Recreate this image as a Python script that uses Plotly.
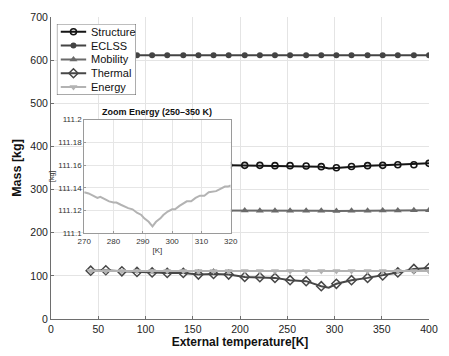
import plotly.graph_objects as go

# ---------------- data ----------------
T_K = [42, 58, 75, 91, 107, 123, 140, 156, 172, 188, 205, 221, 237, 253,
       270, 286, 302, 318, 335, 351, 367, 384, 400]
STRUCTURE = [360, 360, 359.5, 359, 358.5, 358.5, 358, 357.5, 357, 356.5, 356.2, 356.2,
             355.4, 355.4, 354.6, 353.1, 350.5, 353.5, 355.4, 356.2, 357.7, 357.7, 360.8]
ECLSS = [611.5] * 23
MOBILITY = [252, 252, 252, 252, 252, 252, 252, 252, 252, 252, 251.7, 251.2, 251.2,
            251, 251, 250.7, 250.2, 250.7, 251, 251.4, 251.4, 251.9, 252.2]
THERMAL = [112, 113, 110.5, 109, 108, 106.8, 106.8, 103, 104.5, 103, 97.6, 96.8,
           95.3, 90, 87.7, 76, 81.6, 90, 95.3, 101, 108, 116, 118]
ENERGY = [111.18, 111.17, 111.17, 111.16, 111.16, 111.16, 111.15, 111.15, 111.15,
          111.14, 111.14, 111.14, 111.13, 111.13, 111.135, 111.12, 111.12, 111.14,
          111.15, 111.16, 111.17, 111.17, 111.18]
# line-only points between markers (minimum near 294 K)
T_DIP = [294]
STRUCTURE_DIP = [349]
THERMAL_DIP = [72.5]

ZOOM_T = [270, 271.5, 273, 274.5, 275.5, 277, 278.5, 280, 281, 282.5, 284, 285, 286.5,
          288, 289.5, 290.5, 292, 293.3, 294.5, 296, 297, 298.5, 300, 301, 302.5, 304,
          305, 306.5, 308, 309.5, 311, 312.5, 314, 315, 316.5, 318, 319, 320]
ZOOM_ENERGY = [111.136, 111.135, 111.133, 111.131, 111.132, 111.130, 111.128, 111.127,
               111.127, 111.125, 111.123, 111.122, 111.121, 111.118, 111.116, 111.113,
               111.110, 111.106, 111.110, 111.113, 111.116, 111.119, 111.121, 111.121,
               111.124, 111.126, 111.128, 111.128, 111.131, 111.133, 111.133, 111.136,
               111.137, 111.137, 111.139, 111.141, 111.141, 111.142]

SERIES_NAMES = ["Structure", "ECLSS", "Mobility", "Thermal", "Energy"]
X_TICKS = [0, 50, 100, 150, 200, 250, 300, 350, 400]
Y_TICKS = [0, 100, 200, 300, 400, 500, 600, 700]
ZOOM_X_TICKS = [270, 280, 290, 300, 310, 320]
ZOOM_Y_TICKS = [111.1, 111.12, 111.14, 111.16, 111.18, 111.2]
ZOOM_Y_LABELS = ["111.1", "111.12", "111.14", "111.16", "111.18", "111.2"]

# ---------------- styles ----------------
FONT = "Liberation Sans, Arial, Helvetica, sans-serif"
STYLES = {
    "Structure": dict(color="#151515", symbol="circle-open", size=6, mlw=1.6),
    "ECLSS": dict(color="#444444", symbol="circle", size=6, mlw=0),
    "Mobility": dict(color="#6a6a6a", symbol="triangle-up", size=7, mlw=0),
    "Thermal": dict(color="#474747", symbol="diamond-open", size=7, mlw=1.5),
    "Energy": dict(color="#b3b3b3", symbol="triangle-down", size=7, mlw=0),
}
LINE_W = 2


def merge(xs, ys, xd, yd):
    pts = sorted(list(zip(xs, ys)) + list(zip(xd, yd)))
    return [p[0] for p in pts], [p[1] for p in pts]


line_data = {
    "Structure": merge(T_K, STRUCTURE, T_DIP, STRUCTURE_DIP),
    "ECLSS": (T_K, ECLSS),
    "Mobility": (T_K, MOBILITY),
    "Thermal": merge(T_K, THERMAL, T_DIP, THERMAL_DIP),
    "Energy": (T_K, ENERGY),
}
marker_data = {
    "Structure": STRUCTURE, "ECLSS": ECLSS, "Mobility": MOBILITY,
    "Thermal": THERMAL, "Energy": ENERGY,
}

fig = go.Figure()

for name in SERIES_NAMES:
    st = STYLES[name]
    lx, ly = line_data[name]
    fig.add_trace(go.Scatter(x=lx, y=ly, mode="lines", showlegend=False,
                             line=dict(color=st["color"], width=LINE_W),
                             xaxis="x", yaxis="y", hoverinfo="skip"))
    fig.add_trace(go.Scatter(x=T_K, y=marker_data[name], mode="markers", name=name,
                             showlegend=False,
                             marker=dict(symbol=st["symbol"], size=st["size"], color=st["color"],
                                         line=dict(color=st["color"], width=st["mlw"])),
                             xaxis="x", yaxis="y"))

# inset
fig.add_trace(go.Scatter(x=ZOOM_T, y=ZOOM_ENERGY, mode="lines", showlegend=False,
                         line=dict(color=STYLES["Energy"]["color"], width=2),
                         xaxis="x2", yaxis="y2"))

# manual legend (compact, MATLAB-like)
LEG_W, LEG_H = 81, 72
ROW0, ROW_STEP = 8, 14
for i, name in enumerate(SERIES_NAMES):
    st = STYLES[name]
    r = ROW0 + i * ROW_STEP
    fig.add_trace(go.Scatter(x=[4, 30], y=[r, r], mode="lines", showlegend=False,
                             line=dict(color=st["color"], width=LINE_W),
                             xaxis="x3", yaxis="y3", hoverinfo="skip"))
    fig.add_trace(go.Scatter(x=[17], y=[r], mode="markers", showlegend=False,
                             marker=dict(symbol=st["symbol"], size=st["size"], color=st["color"],
                                         line=dict(color=st["color"], width=st["mlw"])),
                             xaxis="x3", yaxis="y3", hoverinfo="skip"))
    fig.add_annotation(x=33, y=r, xref="x3", yref="y3", text=name, showarrow=False,
                       xanchor="left", yanchor="middle",
                       font=dict(family=FONT, size=11, color="#111111"))

W, H = 449, 356
ML, MR, MT, MB = 51, 11, 14, 36
PW, PH = W - ML - MR, H - MT - MB


def dx(px):
    return (px - ML) / PW


def dy(py):
    return (H - MB - py) / PH


axis_common = dict(showgrid=True, gridcolor="#e4e4e4", gridwidth=1, zeroline=False,
                   showline=True, linecolor="#6e6e6e", linewidth=1,
                   ticks="inside", ticklen=3, tickcolor="#6e6e6e",
                   tickfont=dict(family=FONT, size=10.5, color="#222222"))

fig.update_layout(
    width=W, height=H,
    margin=dict(l=ML, r=MR, t=MT, b=MB, pad=0),
    paper_bgcolor="white", plot_bgcolor="white",
    showlegend=False,
    xaxis=dict(domain=[0, 1], range=[0, 400], tickvals=X_TICKS, anchor="y",
               title=dict(text="<b>External temperature[K]</b>", standoff=2,
                          font=dict(family=FONT, size=12, color="#111111")),
               **axis_common),
    yaxis=dict(domain=[0, 1], range=[0, 700], tickvals=Y_TICKS, anchor="x",
               title=dict(text="<b>Mass [kg]</b>", standoff=5,
                          font=dict(family=FONT, size=12.5, color="#111111")),
               **axis_common),
    xaxis2=dict(domain=[dx(85), dx(235)], range=[270, 320], tickvals=ZOOM_X_TICKS,
                anchor="y2", showgrid=True, gridcolor="#e6e6e6", zeroline=False,
                showline=True, mirror=True, linecolor="#9a9a9a", linewidth=1,
                ticks="inside", ticklen=2, tickcolor="#9a9a9a",
                tickfont=dict(family=FONT, size=8, color="#333333"),
                title=dict(text="[K]", standoff=2, font=dict(family=FONT, size=8, color="#333333"))),
    yaxis2=dict(domain=[dy(233), dy(118)], range=[111.1, 111.2], tickvals=ZOOM_Y_TICKS,
                ticktext=ZOOM_Y_LABELS, anchor="x2", showgrid=True, gridcolor="#e6e6e6",
                zeroline=False, showline=True, mirror=True, linecolor="#9a9a9a", linewidth=1,
                ticks="inside", ticklen=2, tickcolor="#9a9a9a",
                tickfont=dict(family=FONT, size=8, color="#333333"),
                title=dict(text="[kg]", standoff=2, font=dict(family=FONT, size=7, color="#333333"))),
    xaxis3=dict(domain=[dx(57), dx(57 + LEG_W)], range=[0, LEG_W], anchor="y3",
                visible=False, fixedrange=True),
    yaxis3=dict(domain=[dy(21 + LEG_H), dy(21)], range=[LEG_H, 0], anchor="x3",
                visible=False, fixedrange=True),
)

# white backgrounds covering main plot under inset and legend
fig.add_shape(type="rect", xref="x2", yref="y2", x0=270, x1=320, y0=111.1, y1=111.2,
              layer="below", fillcolor="white", line=dict(width=0))
fig.add_shape(type="rect", xref="x3", yref="y3", x0=0, x1=LEG_W, y0=0, y1=LEG_H,
              layer="below", fillcolor="white", line=dict(color="#3a3a3a", width=0.8))

fig.add_annotation(x=0.5, y=1, xref="x2 domain", yref="y2 domain",
                   text="<b>Zoom Energy (250–350 K)</b>", showarrow=False,
                   xanchor="center", yanchor="bottom", yshift=1,
                   font=dict(family=FONT, size=9, color="#111111"))

fig.write_html("out.html")
